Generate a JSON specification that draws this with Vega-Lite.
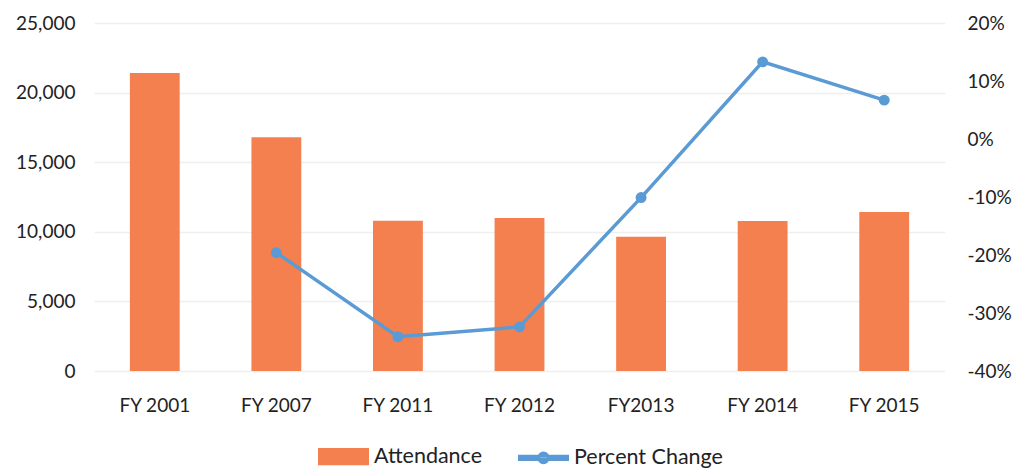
{
  "$schema": "https://vega.github.io/schema/vega-lite/v6.json",
  "autosize": "none",
  "width": 851,
  "height": 348,
  "padding": {"left": 94, "top": 23, "right": 71, "bottom": 97},
  "background": "white",
  "config": {
    "font": "Lato",
    "view": {"stroke": null},
    "axis": {"labelFont": "Lato", "labelFontSize": 19, "labelColor": "#222", "domain": false, "ticks": false, "grid": false},
    "legend": {"labelFont": "Lato", "labelFontSize": 21.5, "labelColor": "#222"}
  },
  "data": {"values": [
    {"year": "FY 2001", "attendance": 21400, "pct": null},
    {"year": "FY 2007", "attendance": 16800, "pct": -0.196},
    {"year": "FY 2011", "attendance": 10800, "pct": -0.341},
    {"year": "FY 2012", "attendance": 11000, "pct": -0.324},
    {"year": "FY2013", "attendance": 9650, "pct": -0.101},
    {"year": "FY 2014", "attendance": 10780, "pct": 0.133},
    {"year": "FY 2015", "attendance": 11420, "pct": 0.067}
  ]},
  "encoding": {
    "x": {"field": "year", "type": "nominal", "sort": null,
      "scale": {"paddingInner": 0.59, "paddingOuter": 0.295},
      "axis": {"title": null, "labelAngle": 0, "labelPadding": 25}}
  },
  "layer": [
    {
      "mark": {"type": "bar", "color": "#F4804F"},
      "encoding": {
        "y": {"field": "attendance", "type": "quantitative",
          "scale": {"domain": [0, 25000]},
          "axis": {"title": null, "values": [0, 5000, 10000, 15000, 20000, 25000], "format": ",.0f", "grid": true, "gridColor": "#efefef", "gridWidth": 1.5, "labelPadding": 19}},
        "color": {"datum": "Attendance", "type": "nominal",
          "scale": {"domain": ["Attendance", "Percent Change"], "range": ["#F4804F", "#5B9BD5"]},
          "legend": {"title": null, "orient": "none", "legendX": 224, "legendY": 408, "direction": "horizontal",
            "symbolSize": 2304, "symbolStrokeWidth": 3, "columnPadding": 30, "labelOffset": 5,
            "encode": {"symbols": {"update": {
              "shape": {"signal": "datum.value === 'Attendance' ? 'M-1,-0.3H1V0.3H-1Z' : 'M-1,-0.07H1V0.07H-1Z M-0.2,0 A0.2,0.2 0 1,0 0.2,0 A0.2,0.2 0 1,0 -0.2,0'"},
              "fill": {"signal": "datum.value === 'Attendance' ? '#F4804F' : '#5B9BD5'"},
              "stroke": {"value": null},
              "fillOpacity": {"value": 1}
            }}}}}
      }
    },
    {
      "transform": [{"filter": "datum.pct != null"}],
      "mark": {"type": "line", "color": "#5B9BD5", "strokeWidth": 3.5, "point": {"filled": true, "size": 120, "color": "#6FA8D8"}},
      "encoding": {
        "y": {"field": "pct", "type": "quantitative",
          "scale": {"domain": [-0.4, 0.2]},
          "axis": {"title": null, "orient": "right", "values": [-0.4, -0.3, -0.2, -0.1, 0, 0.1, 0.2], "labelExpr": "replace(format(datum.value, '.0%'), '\u2212', '-')", "labelPadding": 22}},
        "color": {"datum": "Percent Change", "type": "nominal"}
      }
    }
  ],
  "resolve": {"scale": {"y": "independent"}}
}
